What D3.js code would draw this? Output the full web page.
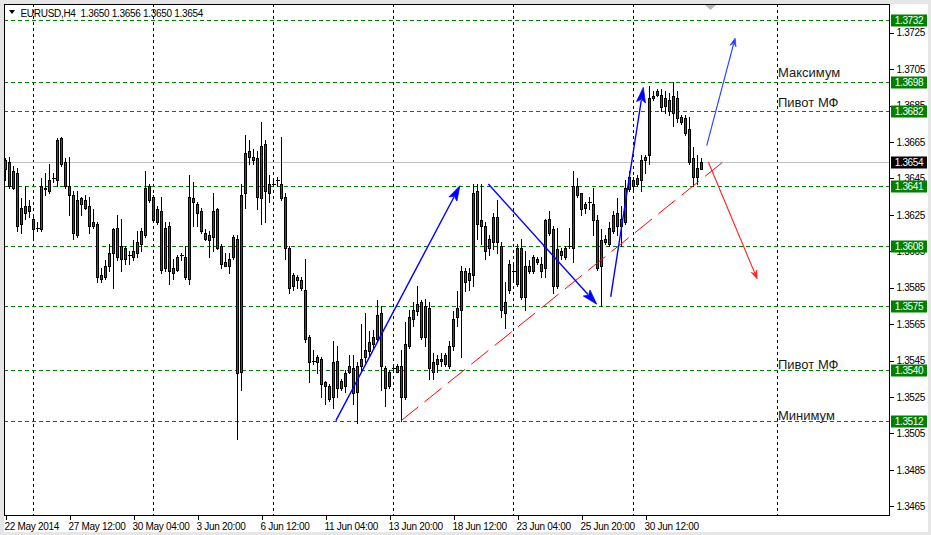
<!DOCTYPE html>
<html><head><meta charset="utf-8">
<script src="https://cdn.jsdelivr.net/npm/d3@7"></script>
<style>
html,body{margin:0;padding:0;background:#fff;}
svg{display:block;}
text{font-family:"Liberation Sans",Arial,sans-serif;}
</style></head><body>
<svg id="c" width="931" height="535"></svg>
<script>
// ---------- DATA ----------
const symbolTitle = "EURUSD,H4  1.3650 1.3656 1.3650 1.3654";
const opens = [1.3650,1.3654,1.3640,1.3648,1.3620,1.3630,1.3627,1.3623,1.3618,1.3617,
1.3639,1.3638,1.3645,1.3644,1.3667,1.3654,1.3641,1.3636,1.3614,1.3634,
1.3633,1.3630,1.3621,1.3620,1.3592,1.3591,1.3597,1.3604,1.3618,1.3601,
1.3607,1.3603,1.3602,1.3604,1.3609,1.3614,1.3641,1.3635,1.3621,1.3627,
1.3596,1.3619,1.3593,1.3595,1.3603,1.3602,1.3590,1.3634,1.3631,1.3627,
1.3615,1.3611,1.3613,1.3628,1.3608,1.3597,1.3597,1.3602,1.3612,1.3539,
1.3637,1.3660,1.3657,1.3656,1.3634,1.3664,1.3637,1.3642,1.3644,1.3642,
1.3635,1.3607,1.3586,1.3591,1.3589,1.3584,1.3558,1.3545,1.3544,1.3546,
1.3533,1.3531,1.3525,1.3545,1.3534,1.3531,1.3539,1.3541,1.3528,1.3542,
1.3547,1.3550,1.3554,1.3557,1.3571,1.3541,1.3531,1.3541,1.3539,1.3542,
1.3525,1.3553,1.3568,1.3572,1.3577,1.3558,1.3574,1.3539,1.3543,1.3545,
1.3548,1.3542,1.3553,1.3569,1.3573,1.3594,1.3589,1.3592,1.3638,1.3622,
1.3619,1.3607,1.3610,1.3624,1.3608,1.3571,1.3584,1.3594,1.3587,1.3607,
1.3580,1.3597,1.3594,1.3601,1.3598,1.3596,1.3623,1.3617,1.3586,1.3605,
1.3602,1.3608,1.3607,1.3641,1.3637,1.3629,1.3632,1.3631,1.3622,1.3597,
1.3610,1.3609,1.3616,1.3626,1.3619,1.3621,1.3639,1.3641,1.3642,1.3644,
1.3655,1.3658,1.3689,1.3691,1.3691,1.3685,1.3688,1.3681,1.3689,1.3679,
1.3678,1.3672,1.3656,1.3646,1.3650];
const highs = [1.3656,1.3657,1.3652,1.3651,1.3634,1.3641,1.3633,1.3624,1.3621,1.3645,
1.3648,1.3653,1.3648,1.3667,1.3668,1.3656,1.3657,1.3638,1.3638,1.3635,
1.3636,1.3635,1.3628,1.3621,1.3596,1.3600,1.3609,1.3618,1.3625,1.3623,
1.3608,1.3605,1.3611,1.3616,1.3618,1.3649,1.3642,1.3636,1.3630,1.3635,
1.3621,1.3621,1.3601,1.3603,1.3604,1.3608,1.3647,1.3643,1.3632,1.3629,
1.3617,1.3616,1.3637,1.3629,1.3609,1.3604,1.3604,1.3614,1.3614,1.3642,
1.3669,1.3666,1.3661,1.3660,1.3676,1.3666,1.3647,1.3644,1.3646,1.3668,
1.3637,1.3608,1.3593,1.3592,1.3591,1.3601,1.3559,1.3551,1.3548,1.3547,
1.3534,1.3532,1.3556,1.3553,1.3535,1.3540,1.3548,1.3548,1.3544,1.3565,
1.3571,1.3561,1.3562,1.3578,1.3575,1.3542,1.3540,1.3542,1.3543,1.3551,
1.3566,1.3573,1.3577,1.3586,1.3578,1.3579,1.3577,1.3549,1.3548,1.3549,
1.3549,1.3556,1.3572,1.3583,1.3597,1.3596,1.3596,1.3642,1.3642,1.3642,
1.3621,1.3614,1.3626,1.3633,1.3610,1.3588,1.3600,1.3598,1.3609,1.3612,
1.3605,1.3600,1.3603,1.3602,1.3602,1.3623,1.3627,1.3619,1.3618,1.3607,
1.3608,1.3618,1.3649,1.3645,1.3637,1.3632,1.3635,1.3640,1.3625,1.3617,
1.3614,1.3621,1.3627,1.3634,1.3630,1.3644,1.3649,1.3646,1.3647,1.3658,
1.3658,1.3696,1.3693,1.3694,1.3694,1.3693,1.3692,1.3698,1.3693,1.3680,
1.3680,1.3679,1.3662,1.3658,1.3656];
const lows = [1.3644,1.3640,1.3639,1.3616,1.3615,1.3623,1.3624,1.3613,1.3616,1.3616,
1.3636,1.3637,1.3643,1.3641,1.3652,1.3640,1.3625,1.3612,1.3613,1.3625,
1.3628,1.3615,1.3618,1.3588,1.3588,1.3590,1.3594,1.3585,1.3600,1.3594,
1.3598,1.3598,1.3600,1.3602,1.3605,1.3613,1.3632,1.3621,1.3620,1.3593,
1.3594,1.3587,1.3590,1.3594,1.3600,1.3590,1.3587,1.3619,1.3619,1.3615,
1.3611,1.3602,1.3605,1.3606,1.3596,1.3597,1.3593,1.3601,1.3502,1.3529,
1.3629,1.3653,1.3653,1.3628,1.3620,1.3621,1.3632,1.3641,1.3641,1.3633,
1.3601,1.3582,1.3584,1.3585,1.3584,1.3555,1.3533,1.3543,1.3538,1.3525,
1.3521,1.3523,1.3519,1.3525,1.3529,1.3528,1.3538,1.3521,1.3511,1.3539,
1.3544,1.3548,1.3552,1.3555,1.3529,1.3520,1.3530,1.3539,1.3539,1.3512,
1.3524,1.3552,1.3564,1.3570,1.3557,1.3553,1.3535,1.3535,1.3539,1.3542,
1.3542,1.3541,1.3551,1.3564,1.3547,1.3583,1.3584,1.3586,1.3612,1.3609,
1.3601,1.3603,1.3606,1.3604,1.3569,1.3563,1.3582,1.3590,1.3586,1.3579,
1.3573,1.3593,1.3593,1.3598,1.3591,1.3591,1.3614,1.3582,1.3585,1.3601,
1.3601,1.3607,1.3599,1.3635,1.3625,1.3626,1.3628,1.3614,1.3595,1.3575,
1.3609,1.3608,1.3615,1.3614,1.3608,1.3620,1.3638,1.3638,1.3641,1.3638,
1.3648,1.3653,1.3688,1.3690,1.3682,1.3681,1.3680,1.3674,1.3676,1.3675,
1.3669,1.3653,1.3641,1.3642,1.3650];
const closes = [1.3655,1.3641,1.3649,1.3619,1.3629,1.3626,1.3630,1.3617,1.3618,1.3641,
1.3640,1.3644,1.3645,1.3666,1.3653,1.3641,1.3636,1.3615,1.3633,1.3631,
1.3629,1.3619,1.3619,1.3591,1.3590,1.3597,1.3604,1.3617,1.3602,1.3608,
1.3601,1.3603,1.3605,1.3610,1.3616,1.3640,1.3633,1.3622,1.3628,1.3595,
1.3618,1.3594,1.3596,1.3602,1.3603,1.3591,1.3635,1.3632,1.3626,1.3616,
1.3612,1.3614,1.3627,1.3607,1.3598,1.3599,1.3601,1.3613,1.3538,1.3636,
1.3659,1.3657,1.3655,1.3635,1.3663,1.3638,1.3642,1.3642,1.3644,1.3634,
1.3607,1.3585,1.3592,1.3589,1.3585,1.3557,1.3544,1.3545,1.3547,1.3532,
1.3531,1.3524,1.3544,1.3530,1.3530,1.3538,1.3542,1.3527,1.3542,1.3546,
1.3551,1.3555,1.3558,1.3570,1.3542,1.3530,1.3539,1.3541,1.3542,1.3525,
1.3554,1.3569,1.3573,1.3576,1.3558,1.3575,1.3541,1.3544,1.3546,1.3546,
1.3543,1.3553,1.3568,1.3574,1.3594,1.3588,1.3593,1.3637,1.3620,1.3619,
1.3605,1.3612,1.3624,1.3610,1.3573,1.3577,1.3598,1.3594,1.3607,1.3580,
1.3597,1.3594,1.3602,1.3599,1.3594,1.3622,1.3615,1.3586,1.3606,1.3603,
1.3607,1.3608,1.3641,1.3636,1.3628,1.3631,1.3632,1.3622,1.3596,1.3611,
1.3612,1.3618,1.3625,1.3619,1.3623,1.3640,1.3646,1.3644,1.3645,1.3655,
1.3657,1.3689,1.3690,1.3693,1.3684,1.3689,1.3682,1.3690,1.3678,1.3676,
1.3670,1.3654,1.3646,1.3651,1.3654];

const timeTickIndex = [0,16,32,48,64,80,96,112,128,144,160];
const timeTickLabels = ["22 May 2014","27 May 12:00","30 May 04:00","3 Jun 20:00","6 Jun 12:00",
  "11 Jun 04:00","13 Jun 20:00","18 Jun 12:00","23 Jun 04:00","25 Jun 20:00","30 Jun 12:00"];
const gridIndex = [7,37,67,97,127,157,193];
const priceTicks = [1.3725,1.3705,1.3685,1.3665,1.3645,1.3625,1.3605,1.3585,1.3565,1.3545,1.3525,1.3505,1.3485,1.3465];
const levelPrices = [1.3732,1.3698,1.3682,1.3641,1.3608,1.3575,1.3540,1.3512];
const bidPrice = 1.3654;
const noteTexts = ["Максимум","Пивот МФ","Пивот МФ","Минимум"];
const notePrices = [1.3703,1.3687,1.3543,1.3515];
const noteIndex = 193;
// arrows: start (bar index, price) -> end (bar index, price)
const blueArrowFrom = [[82.6,1.3512],[120.7,1.3642],[151.3,1.3580],[175.3,1.3663]];
const blueArrowTo   = [[113.6,1.3641],[147.8,1.3576],[159.45,1.3695],[182.4,1.3722]];
const redArrowFrom = [175.7,1.3654];
const redArrowTo = [187.9,1.3590];
const trendFrom = [98.9,1.3512];
const trendTo = [179.9,1.3655];

// ---------- CHART ----------
const svg = d3.select("#c");
const W = 931, H = 535;
const L = 4, T = 4, R = 889, B = 515;
const x = d3.scaleLinear().domain([0,174]).range([5.5,701.5]);
const y = d3.scaleLinear().domain([1.3732,1.3512]).range([20,420.7]);

svg.append("rect").attr("width",W).attr("height",H).attr("fill","#e6e6e6");
svg.append("rect").attr("x",L).attr("y",T).attr("width",928-L).attr("height",532-T).attr("fill","#fff");

const clip = svg.append("defs").append("clipPath").attr("id","pc").append("rect")
  .attr("x",L+1).attr("y",T+1).attr("width",R-L-1).attr("height",B-T-1);
const plot = svg.append("g").attr("clip-path","url(#pc)");

// vertical grid
plot.selectAll("line.vg").data(gridIndex).join("line")
  .attr("x1",d=>x(d)).attr("x2",d=>x(d)).attr("y1",T).attr("y2",B)
  .attr("stroke","#000").attr("stroke-dasharray","3,3").attr("shape-rendering","crispEdges");

// level lines
plot.selectAll("line.lv").data(levelPrices).join("line")
  .attr("x1",L).attr("x2",R).attr("y1",d=>Math.round(y(d))+0.5).attr("y2",d=>Math.round(y(d))+0.5)
  .attr("stroke","#008000").attr("stroke-dasharray","4,3").attr("shape-rendering","crispEdges");

// bid line
plot.append("line").attr("x1",L).attr("x2",R)
  .attr("y1",Math.round(y(bidPrice))+0.5).attr("y2",Math.round(y(bidPrice))+0.5)
  .attr("stroke","#c0c0c0").attr("shape-rendering","crispEdges");

// candles
const bars = d3.range(opens.length).map(i=>({i,o:opens[i],h:highs[i],l:lows[i],c:closes[i]}));
const cg = plot.append("g").attr("shape-rendering","crispEdges");
cg.selectAll("line.wick").data(bars).join("line")
  .attr("x1",d=>x(d.i)).attr("x2",d=>x(d.i))
  .attr("y1",d=>Math.round(y(d.h))).attr("y2",d=>Math.round(y(d.l))+1)
  .attr("stroke","#000");
cg.selectAll("rect.body").data(bars.filter(d=>Math.round(y(d.o))!==Math.round(y(d.c)))).join("rect")
  .attr("x",d=>x(d.i)-1).attr("width",2)
  .attr("y",d=>Math.round(y(Math.max(d.o,d.c)))+0.5)
  .attr("height",d=>Math.round(y(Math.min(d.o,d.c)))-Math.round(y(Math.max(d.o,d.c))))
  .attr("fill",d=>d.c>d.o?"#008000":"#ff0000").attr("stroke","#000");
cg.selectAll("line.doji").data(bars.filter(d=>Math.round(y(d.o))===Math.round(y(d.c)))).join("line")
  .attr("x1",d=>x(d.i)-1.5).attr("x2",d=>x(d.i)+2.5)
  .attr("y1",d=>Math.round(y(d.o))+0.5).attr("y2",d=>Math.round(y(d.o))+0.5)
  .attr("stroke","#000");

// trend line
plot.append("line")
  .attr("x1",x(trendFrom[0])).attr("y1",y(trendFrom[1]))
  .attr("x2",x(trendTo[0])).attr("y2",y(trendTo[1]))
  .attr("stroke","#ff0000").attr("stroke-width",1).attr("stroke-dasharray","22,8");

function arrow(from,to,color,headLen,headW,sw){
  const x1=x(from[0]),y1=y(from[1]),x2=x(to[0]),y2=y(to[1]);
  const dx=x2-x1, dy=y2-y1, len=Math.hypot(dx,dy), ux=dx/len, uy=dy/len;
  const bx=x2-ux*headLen, by=y2-uy*headLen;
  plot.append("line").attr("x1",x1).attr("y1",y1).attr("x2",bx+ux*2).attr("y2",by+uy*2)
    .attr("stroke",color).attr("stroke-width",sw);
  plot.append("path")
    .attr("d",`M${x2},${y2}L${bx-uy*headW},${by+ux*headW}L${bx+ux*3},${by+uy*3}L${bx+uy*headW},${by-ux*headW}Z`)
    .attr("fill",color).attr("stroke",color).attr("stroke-width",0.8);
}
blueArrowFrom.forEach((f,k)=>{
  if(k<3) arrow(f,blueArrowTo[k],"#0000ff",15,4.5,1.4);
  else arrow(f,blueArrowTo[k],"#2040ff",8,3,1.1);
});
arrow(redArrowFrom,redArrowTo,"#ff2020",8,3,1.1);

// notes
plot.selectAll("text.note").data(noteTexts).join("text")
  .attr("x",x(noteIndex)+0.5).attr("y",(d,k)=>y(notePrices[k]))
  .attr("dy","0.36em").attr("font-size","13px").attr("fill","#1a1a1a").text(d=>d);

// chart shift marker
svg.append("path").attr("d","M705,5L716,5L710.5,10Z").attr("fill","#b8b8b8");

// frame
const fr = svg.append("g").attr("stroke","#000").attr("shape-rendering","crispEdges");
fr.append("line").attr("x1",L+0.5).attr("x2",L+0.5).attr("y1",T).attr("y2",B+1);
fr.append("line").attr("x1",L).attr("x2",R+1).attr("y1",T+0.5).attr("y2",T+0.5);

// right axis
const ya = d3.axisRight(y).tickValues(priceTicks).tickSize(4).tickPadding(3).tickFormat(d3.format(".4f"));
const yg = svg.append("g").attr("transform",`translate(${R+0.5},0)`).call(ya);
yg.select(".domain").attr("d",`M0,${T}V${B+1}`).attr("stroke","#000").attr("shape-rendering","crispEdges");
yg.selectAll(".tick line").attr("stroke","#000").attr("shape-rendering","crispEdges");
yg.selectAll(".tick text").attr("font-size","10px").attr("letter-spacing","-0.35px").attr("fill","#000")
  .attr("font-family","Liberation Sans, Arial, sans-serif");

// bottom axis
const xa = d3.axisBottom(x).tickValues(timeTickIndex).tickSize(4).tickPadding(3)
  .tickFormat((d,k)=>timeTickLabels[k]);
const xg = svg.append("g").attr("transform",`translate(0,${B+0.5})`).call(xa);
xg.select(".domain").attr("d",`M${L},0H${R+1}`).attr("stroke","#000").attr("shape-rendering","crispEdges");
xg.selectAll(".tick line").attr("stroke","#000").attr("shape-rendering","crispEdges");
xg.selectAll(".tick text").attr("text-anchor","start").attr("x",-1.5)
  .attr("font-size","10px").attr("letter-spacing","-0.3px").attr("fill","#000")
  .attr("font-family","Liberation Sans, Arial, sans-serif");

// level price labels
const lg = svg.append("g");
lg.selectAll("rect").data(levelPrices).join("rect")
  .attr("x",R+2).attr("width",36).attr("y",d=>Math.round(y(d))-5.5).attr("height",12)
  .attr("fill","#008000");
lg.selectAll("text").data(levelPrices).join("text")
  .attr("x",R+20).attr("y",d=>Math.round(y(d))+0.5).attr("dy","0.36em")
  .attr("text-anchor","middle").attr("font-size","10px").attr("letter-spacing","-0.35px")
  .attr("fill","#fff").text(d=>d3.format(".4f")(d));
svg.append("rect").attr("x",R+2).attr("width",36).attr("y",Math.round(y(bidPrice))-5.5).attr("height",12).attr("fill","#000");
svg.append("text").attr("x",R+20).attr("y",Math.round(y(bidPrice))+0.5).attr("dy","0.36em")
  .attr("text-anchor","middle").attr("font-size","10px").attr("letter-spacing","-0.35px")
  .attr("fill","#fff").text(d3.format(".4f")(bidPrice));

// header
svg.append("path").attr("d","M9,10L15,10L12,14Z").attr("fill","#000");
svg.append("text").attr("x",20.5).attr("y",16.5).attr("font-size","10px").attr("letter-spacing","-0.3px")
  .attr("fill","#000").attr("xml:space","preserve").style("white-space","pre").text(symbolTitle);
</script>
</body></html>
